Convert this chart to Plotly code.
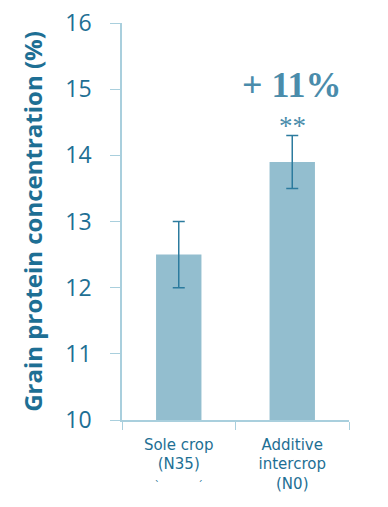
import plotly.graph_objects as go

# Grain protein concentration by cropping system
categories = ["Sole crop<br>(N35)<br><span style='font-size:10px'>`            ´</span>",
              "Additive<br>intercrop<br>(N0)"]
protein = [12.5, 13.9]
error = [0.5, 0.4]
y_ticks = [10, 11, 12, 13, 14, 15, 16]

text_color = "#1E6F94"
bar_color = "#93BECF"
axis_color = "#A9CFDD"
err_color = "#2C7B9E"

gain = round((protein[1] / protein[0] - 1) * 100)

fig = go.Figure()
fig.add_trace(go.Bar(
    x=categories,
    y=protein,
    base=0,
    marker=dict(color=bar_color, line=dict(width=0)),
    error_y=dict(type="data", array=error, visible=True,
                 color=err_color, thickness=1.5, width=6),
    width=0.4,
))

fig.add_annotation(x=categories[1], y=15.06, text=f"<b>+ {gain}%</b>",
                   showarrow=False, xanchor="center", yanchor="middle",
                   font=dict(family="Liberation Serif", size=36, color="#4A8CAB"))
fig.add_annotation(x=categories[1], y=14.44, text="**",
                   showarrow=False, xanchor="center", yanchor="middle",
                   font=dict(family="Liberation Serif", size=27, color="#4A8CAB"))

fig.update_layout(
    width=388, height=507,
    margin=dict(l=122, r=39, t=23, b=87, autoexpand=False),
    plot_bgcolor="white", paper_bgcolor="white",
    showlegend=False,
    xaxis=dict(
        showline=True, linecolor=axis_color, linewidth=1.5,
        ticks="outside", tickson="boundaries", ticklen=8, tickcolor=axis_color,
        ticklabelstandoff=10,
        tickfont=dict(family="DejaVu Sans", size=15, color=text_color),
        showgrid=False,
    ),
    yaxis=dict(
        range=[10, 16], tickvals=y_ticks,
        showline=True, linecolor=axis_color, linewidth=1.5,
        ticks="outside", ticklen=10, tickcolor=axis_color,
        ticklabelstandoff=14,
        tickfont=dict(family="Open Sans", size=23, color=text_color),
        showgrid=False, zeroline=False,
        title=dict(text="<b>Grain protein concentration (%)</b>", standoff=16,
                   font=dict(family="Open Sans", size=24, color=text_color)),
    ),
)

fig.write_html("out.html")
